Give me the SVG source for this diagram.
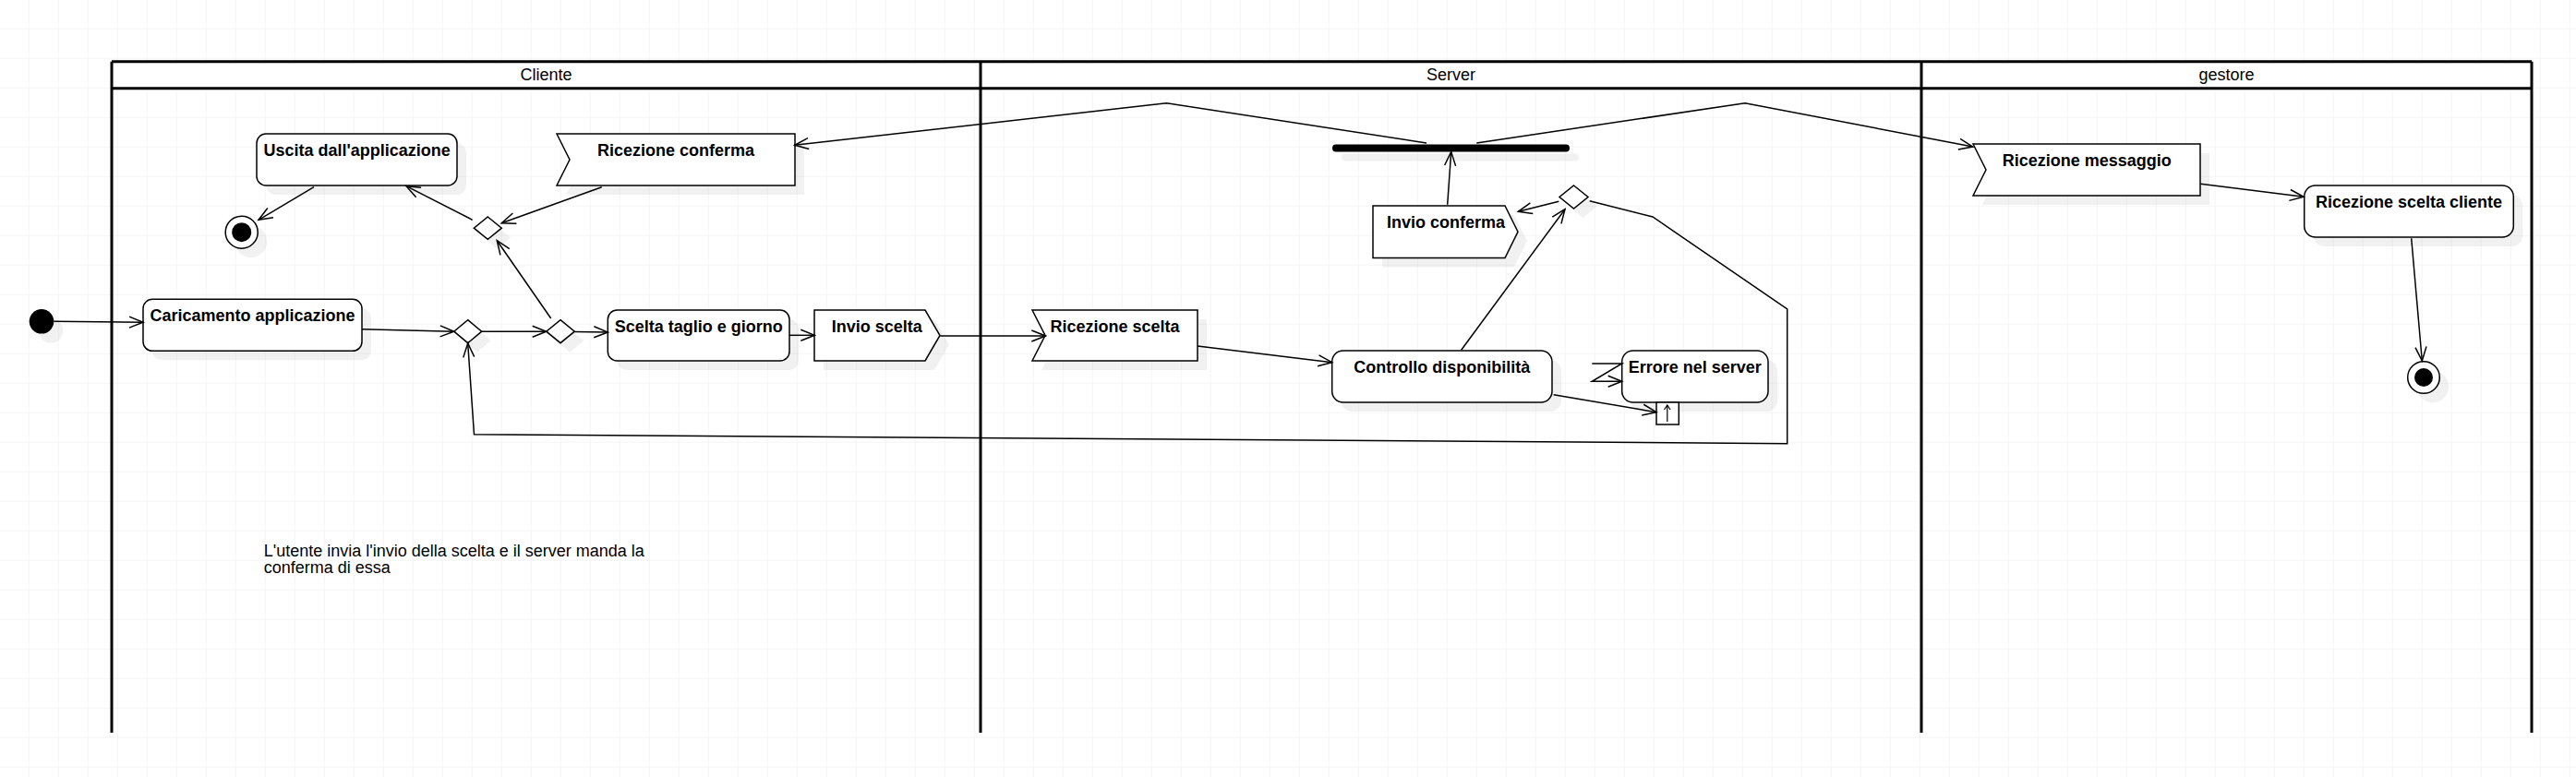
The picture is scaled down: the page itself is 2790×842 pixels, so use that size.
<svg xmlns="http://www.w3.org/2000/svg" width="2790" height="842" viewBox="0 0 2790 842">
<style>
.node{fill:#fff;stroke:#000;stroke-width:1.5}
.shadow{fill:#000;fill-opacity:0.055;stroke:none}
.lbl{font-family:"Liberation Sans",Arial,sans-serif;font-size:18px;font-weight:bold;text-anchor:middle;fill:#000}
.ltitle{font-family:"Liberation Sans",Arial,sans-serif;font-size:18px;font-weight:normal;text-anchor:middle;fill:#000}
.note{font-family:"Liberation Sans",Arial,sans-serif;font-size:18px;font-weight:normal;fill:#000}
.lane{fill:none;stroke:#000;stroke-width:3}
.edge{fill:none;stroke:#000;stroke-width:1.5;marker-end:url(#arr)}
</style>
<defs>
<pattern id="grid" x="30.7" y="30.7" width="32" height="32" patternUnits="userSpaceOnUse">
<path d="M0 0 H32 M0 0 V32" fill="none" stroke="#ececec" stroke-width="1"/>
</pattern>
<marker id="arr" viewBox="-17 -8 19 16" refX="0" refY="0" markerWidth="19" markerHeight="16" markerUnits="userSpaceOnUse" orient="auto">
<path d="M-15,-6 L0,0 L-15,6" fill="none" stroke="#000" stroke-width="1.5"/>
</marker>
<marker id="arrs" viewBox="-7 -5 8 10" refX="0" refY="0" markerWidth="8" markerHeight="10" markerUnits="userSpaceOnUse" orient="auto">
<path d="M-5,-3.3 L0,0 L-5,3.3" fill="none" stroke="#000" stroke-width="1.2"/>
</marker>
</defs>
<rect x="0" y="0" width="2790" height="842" fill="#fff"/>
<rect x="0" y="0" width="2790" height="842" fill="url(#grid)"/>

<g id="lanes">
<g id="lane-cliente">
<rect x="121" y="66.7" width="941" height="29" fill="#fff"/>
<text class="ltitle" x="591.5" y="87">Cliente</text>
</g>
<g id="lane-server">
<rect x="1062" y="66.7" width="1019" height="29" fill="#fff"/>
<text class="ltitle" x="1571.5" y="87">Server</text>
</g>
<g id="lane-gestore">
<rect x="2081" y="66.7" width="661" height="29" fill="#fff"/>
<text class="ltitle" x="2411.5" y="87">gestore</text>
</g>
<path class="lane" d="M121 66.7 H2742 M121 95.7 H2742 M121 66.7 V794 M1062 66.7 V794 M2081 66.7 V794 M2742 66.7 V794"/>
</g>

<g id="nodes">
<g id="start">
<circle class="shadow" cx="55" cy="358.3" r="13.3"/>
<circle cx="45" cy="348.3" r="13.3" fill="#000"/>
</g>
<g id="caricamento">
<rect class="shadow" x="165" y="334.3" width="237" height="56" rx="10"/>
<rect class="node" x="155" y="324.3" width="237" height="56" rx="10"/>
<text class="lbl" x="273.5" y="348">Caricamento applicazione</text>
</g>
<g id="uscita">
<rect class="shadow" x="288" y="155" width="217" height="56" rx="10"/>
<rect class="node" x="278" y="145" width="217" height="56" rx="10"/>
<text class="lbl" x="386.7" y="168.5">Uscita dall'applicazione</text>
</g>
<g id="final-cliente">
<circle class="shadow" cx="271.7" cy="261.7" r="17.5"/>
<circle class="node" cx="261.7" cy="251.7" r="17.5"/>
<circle cx="261.7" cy="251.7" r="10.5" fill="#000"/>
</g>
<g id="ricezione-conferma">
<polygon class="shadow" points="613,155 871,155 871,211 613,211 627,183"/>
<polygon class="node" points="603,145 861,145 861,201 603,201 617,173"/>
<text class="lbl" x="732" y="168.5">Ricezione conferma</text>
</g>
<g id="decision1">
<polygon class="shadow" points="516.7,356.7 531.7,369.2 516.7,381.7 501.7,369.2"/>
<polygon class="node" points="506.7,346.7 521.7,359.2 506.7,371.7 491.7,359.2"/>
</g>
<g id="decision2">
<polygon class="shadow" points="617,356.7 632.3,369.2 617,381.7 601.7,369.2"/>
<polygon class="node" points="607,346.7 622.3,359.2 607,371.7 591.7,359.2"/>
</g>
<g id="decision3">
<polygon class="shadow" points="538.3,245 553.3,257.2 538.3,269.4 523.3,257.2"/>
<polygon class="node" points="528.3,235 543.3,247.2 528.3,259.4 513.3,247.2"/>
</g>
<g id="scelta">
<rect class="shadow" x="668.3" y="346" width="196.7" height="55" rx="10"/>
<rect class="node" x="658.3" y="336" width="196.7" height="55" rx="10"/>
<text class="lbl" x="756.7" y="359.5">Scelta taglio e giorno</text>
</g>
<g id="invio-scelta">
<polygon class="shadow" points="892,346 1012,346 1028,373.5 1012,401 892,401"/>
<polygon class="node" points="882,336 1002,336 1018,363.5 1002,391 882,391"/>
<text class="lbl" x="949.7" y="359.5">Invio scelta</text>
</g>
<g id="ricezione-scelta">
<polygon class="shadow" points="1128,346 1307,346 1307,401 1128,401 1142,373.5"/>
<polygon class="node" points="1118,336 1297,336 1297,391 1118,391 1132,363.5"/>
<text class="lbl" x="1207.5" y="359.5">Ricezione scelta</text>
</g>
<g id="controllo">
<rect class="shadow" x="1452.7" y="390" width="238.3" height="56" rx="12"/>
<rect class="node" x="1442.7" y="380" width="238.3" height="56" rx="12"/>
<text class="lbl" x="1561.8" y="403.5">Controllo disponibilità</text>
</g>
<g id="errore">
<rect class="shadow" x="1766.7" y="390" width="158.3" height="56" rx="12"/>
<rect class="node" x="1756.7" y="380" width="158.3" height="56" rx="12"/>
<text class="lbl" x="1835.8" y="403.5">Errore nel server</text>
</g>
<g id="pin">
<rect class="node" x="1794" y="436" width="24.3" height="24"/>
<line x1="1805.8" y1="457" x2="1805.8" y2="439" stroke="#000" stroke-width="1.2" marker-end="url(#arrs)"/>
</g>
<g id="decision4">
<polygon class="shadow" points="1714.5,211 1730,223.5 1714.5,236 1699,223.5"/>
<polygon class="node" points="1704.5,201 1720,213.5 1704.5,226 1689,213.5"/>
</g>
<g id="invio-conferma">
<polygon class="shadow" points="1497,233 1640,233 1654,261.2 1640,289.5 1497,289.5"/>
<polygon class="node" points="1487,223 1630,223 1644,251.2 1630,279.5 1487,279.5"/>
<text class="lbl" x="1566" y="246.5">Invio conferma</text>
</g>
<g id="fork">
<rect class="shadow" x="1453" y="166.5" width="257" height="8" rx="4"/>
<rect x="1443" y="156.5" width="257" height="8" rx="4" fill="#000"/>
</g>
<g id="ricezione-messaggio">
<polygon class="shadow" points="2147,166 2393,166 2393,222 2147,222 2161,194"/>
<polygon class="node" points="2137,156 2383,156 2383,212 2137,212 2151,184"/>
<text class="lbl" x="2260.3" y="179.5">Ricezione messaggio</text>
</g>
<g id="ricezione-scelta-cliente">
<rect class="shadow" x="2505.7" y="211" width="226.6" height="56" rx="12"/>
<rect class="node" x="2495.7" y="201" width="226.6" height="56" rx="12"/>
<text class="lbl" x="2609" y="224.5">Ricezione scelta cliente</text>
</g>
<g id="final-gestore">
<circle class="shadow" cx="2635" cy="419" r="17.3"/>
<circle class="node" cx="2625" cy="409" r="17.3"/>
<circle cx="2625" cy="409" r="10" fill="#000"/>
</g>
<g id="note">
<text class="note" x="285.7" y="602.7">L'utente invia l'invio della scelta e il server manda la</text>
<text class="note" x="285.7" y="620.7">conferma di essa</text>
</g>
</g>

<g id="connectors">
<path class="edge" d="M58.3 348.3 L155 349.3"/>
<path class="edge" d="M392 356.7 L491.7 359.3"/>
<path class="edge" d="M521.7 359.3 L591.7 359.3"/>
<path class="edge" d="M622.3 359.5 L658.3 360"/>
<path class="edge" d="M596.7 345 L538.3 260.7"/>
<path class="edge" d="M651.7 202.7 L543.3 241.7"/>
<path class="edge" d="M511.7 238.3 L440 201.7"/>
<path class="edge" d="M340 202.7 L280 238.3"/>
<path class="edge" d="M855 363.3 L882.3 363.3"/>
<path class="edge" d="M1018.3 364 L1132.3 364"/>
<path class="edge" d="M1297 375 L1442.7 392.7"/>
<path class="edge" d="M1582.7 379.3 L1695 226.7"/>
<path class="edge" d="M1688.3 218.3 L1644.3 229.3"/>
<path class="edge" d="M1567.7 221.7 L1571.7 164.5"/>
<path class="edge" d="M1545 155 L1263.3 111.7 L860.7 157.3"/>
<path class="edge" d="M1599.3 155 L1890 111.7 L2136.7 159"/>
<path class="edge" d="M1721.7 217.7 L1790 235 L1935.7 335 L1935.7 480.7 L513.5 470.7 L506.7 372"/>
<path class="edge" d="M1682.7 427.7 L1794 446.7"/>
<path class="edge" d="M1724.3 394 L1756.7 394 L1724.3 413.3 L1756.7 413.3"/>
<path class="edge" d="M2383.3 199.3 L2495 213.3"/>
<path class="edge" d="M2611.7 258.3 L2623.3 391"/>
</g>
</svg>
